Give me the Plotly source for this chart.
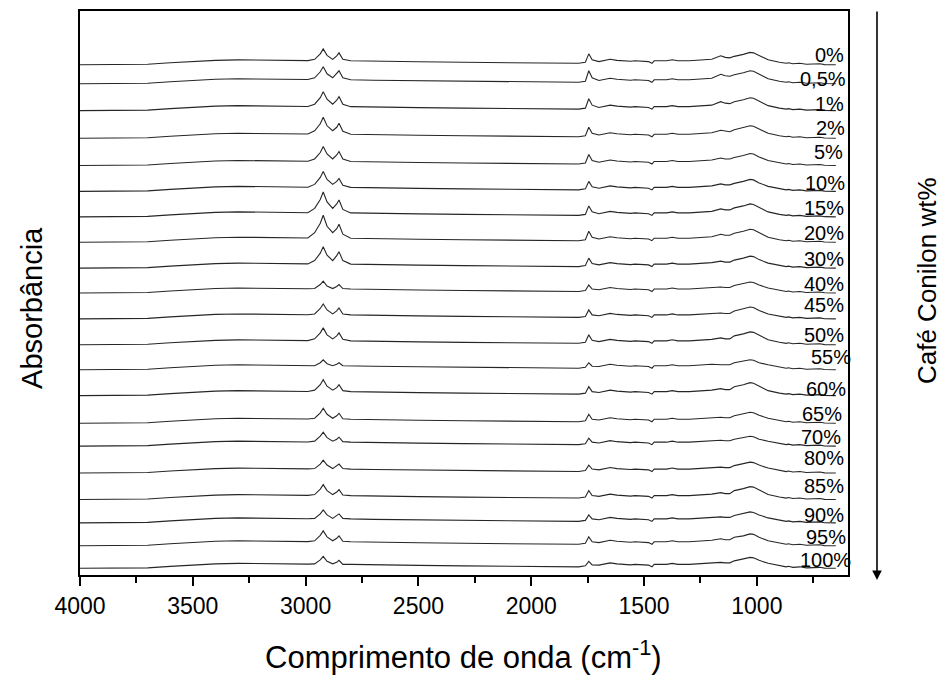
import plotly.graph_objects as go

# ---------------- data ----------------
wavenumber = [4000, 3800, 3700, 3600, 3500, 3400, 3300, 3200, 3100, 3030, 3010, 2990,
              2960, 2935, 2922, 2905, 2880, 2862, 2852, 2835,
              2800, 2700, 2500, 2300, 2100, 1900, 1790, 1760,
              1745, 1730,
              1700, 1650, 1620, 1560, 1540, 1480, 1465, 1455, 1400, 1375, 1350, 1300, 1240, 1200,
              1160, 1140, 1120, 1100, 1060, 1030, 1015, 990,
              950, 900, 870, 860, 840, 810, 780, 720, 700, 650]

labels = ["0%", "0,5%", "1%", "2%", "5%", "10%", "15%", "20%", "30%", "40%", "45%",
          "50%", "55%", "60%", "65%", "70%", "80%", "85%", "90%", "95%", "100%"]

# vertical offset of each spectrum in the stack (a.u.)
offsets = [512, 493, 466, 438.3, 411, 385, 359.4, 334, 308, 283, 257,
           231, 206, 180, 152.3, 129.3, 102.3, 75.7, 52.3, 29.3, 6.7]

a_0 = [0, 0, 0.5, 2, 3.5, 4.5, 5, 4.8, 4.2, 3.8, 4.5, 4.2,
       5.5, 11, 16, 9.5, 5.5, 9, 12, 5.5,
       4, 3.5, 3, 2.5, 2, 1.5, 1.5, 2.5, 11, 5,
       3.2, 5.5, 4.5, 3.5, 4, 3.2, 1.5, 4, 4, 5, 4, 4, 5, 5.5,
       9, 7.5, 7, 8.5, 10.5, 12.5, 12, 9,
       5, 2.5, 1.5, 2, 1, 1.5, 0.5, 1, 0.2, 0]
a_0_5 = [0, 0, 0.5, 2, 3.5, 4.5, 5, 4.8, 4.2, 3.8, 4.5, 4.2,
         6, 12, 17, 10, 6, 10, 13, 6,
         4, 3.5, 3, 2.5, 2, 1.5, 1.5, 2.5, 13, 6,
         3.2, 5.5, 4.5, 3.5, 4, 3.2, 1.5, 4, 4, 5, 4, 4, 5, 5.5,
         9.5, 8, 7.5, 9, 11, 13, 12.5, 9.5,
         5, 2.5, 1.5, 2, 1, 1.5, 0.5, 1, 0.2, 0]
a_1 = [0, 0, 0.5, 2, 3.5, 4.5, 5, 4.8, 4.2, 3.8, 4.5, 4.2,
       6.5, 13, 19, 11.5, 6.5, 10.5, 14, 6.5,
       4, 3.5, 3, 2.5, 2, 1.5, 1.5, 2.5, 12, 5.5,
       3.2, 5.5, 4.5, 3.5, 4, 3.2, 1.5, 4, 4, 5, 4, 4, 5, 5.5,
       9, 7.5, 7, 9, 11, 13, 12.5, 9.5,
       5, 2.5, 1.5, 2, 1, 1.5, 0.5, 1, 0.2, 0]
a_2 = [0, 0, 0.5, 2, 3.5, 4.5, 5, 4.8, 4.2, 3.8, 4.5, 4.2,
       7.5, 14.5, 21, 12.5, 7.5, 11, 15, 7,
       4, 3.5, 3, 2.5, 2, 1.5, 1.5, 2.5, 11, 5,
       3.2, 5.5, 4.5, 3.5, 4, 3.2, 1.5, 4, 4, 5, 4, 4, 5, 5.5,
       8, 7, 6.5, 8.5, 10.5, 12.5, 12, 9,
       5, 2.5, 1.5, 2, 1, 1.5, 0.5, 1, 0.2, 0]
a_5 = [0, 0, 0.5, 2, 3.5, 4.5, 5, 4.8, 4.2, 3.8, 4.5, 4.2,
       6.5, 13, 19, 11.5, 6.5, 10.5, 14, 6.5,
       4, 3.5, 3, 2.5, 2, 1.5, 1.5, 2.5, 11, 5,
       3.2, 5.5, 4.5, 3.5, 4, 3.2, 1.5, 4, 4, 5, 4, 4, 5, 5.5,
       7.5, 6.5, 6.5, 8, 10, 12, 11.5, 8.5,
       5, 2.5, 1.5, 2, 1, 1.5, 0.5, 1, 0.2, 0]
a_10 = [0, 0, 0.5, 2, 3.5, 4.5, 5, 4.8, 4.2, 3.8, 4.5, 4.2,
        7, 14, 20, 12, 7, 10, 13, 6,
        4, 3.5, 3, 2.5, 2, 1.5, 1.5, 2.5, 10, 4.5,
        3.2, 5.5, 4.5, 3.5, 4, 3.2, 1.5, 4, 4, 5, 4, 4, 5, 5.5,
        7.5, 6.5, 6.5, 8, 10, 12, 11.5, 8.5,
        5, 2.5, 1.5, 2, 1, 1.5, 0.5, 1, 0.2, 0]
a_15 = [0, 0, 0.5, 2, 3.5, 4.5, 5, 4.8, 4.2, 3.8, 4.5, 4.2,
        8.5, 17.5, 25, 15, 8.5, 13, 17, 7.5,
        4, 3.5, 3, 2.5, 2, 1.5, 1.5, 2.5, 11, 5,
        3.2, 5.5, 4.5, 3.5, 4, 3.2, 1.5, 4, 4, 5, 4, 4, 5, 5.5,
        8, 7, 7, 9, 11, 13, 12.5, 9.5,
        5, 2.5, 1.5, 2, 1, 1.5, 0.5, 1, 0.2, 0]
a_20 = [0, 0, 0.5, 2, 3.5, 4.5, 5, 4.8, 4.2, 3.8, 4.5, 4.2,
        9.5, 19, 27, 16, 9.5, 13.5, 18, 8,
        4, 3.5, 3, 2.5, 2, 1.5, 1.5, 2.5, 11, 5,
        3.2, 5.5, 4.5, 3.5, 4, 3.2, 1.5, 4, 4, 5, 4, 4, 5, 5.5,
        8, 7, 7, 9, 11, 13, 12.5, 9.5,
        5, 2.5, 1.5, 2, 1, 1.5, 0.5, 1, 0.2, 0]
a_30 = [0, 0, 0.5, 2, 3.5, 4.5, 5, 4.8, 4.2, 3.8, 4.5, 4.2,
        7.5, 15, 21.5, 13, 7.5, 12.5, 16.5, 7.5,
        4, 3.5, 3, 2.5, 2, 1.5, 1.5, 2.5, 10, 4.5,
        3.2, 5.5, 4.5, 3.5, 4, 3.2, 1.5, 4, 4, 5, 4, 4, 5, 5.5,
        7, 6, 6, 8, 10, 12, 11.5, 8.5,
        5, 2.5, 1.5, 2, 1, 1.5, 0.5, 1, 0.2, 0]
a_40 = [0, 0, 0.5, 2, 3.5, 4.5, 5, 4.8, 4.2, 3.8, 4.5, 4.2,
        4.5, 8.5, 12, 7, 4.5, 6.5, 8.5, 4.5,
        4, 3.5, 3, 2.5, 2, 1.5, 1.5, 2.5, 8, 4,
        3.2, 5.5, 4.5, 3.5, 4, 3.2, 1.5, 4, 4, 5, 4, 4, 5, 5.5,
        6, 5.5, 5.5, 7.5, 9.5, 11, 10.5, 8,
        5, 2.5, 1.5, 2, 1, 1.5, 0.5, 1, 0.2, 0]
a_45 = [0, 0, 0.5, 2, 3.5, 4.5, 5, 4.8, 4.2, 3.8, 4.5, 4.2,
        5, 10.5, 15, 9, 5, 8, 11, 5,
        4, 3.5, 3, 2.5, 2, 1.5, 1.5, 2.5, 9, 4,
        3.2, 5.5, 4.5, 3.5, 4, 3.2, 1.5, 4, 4, 5, 4, 4, 5, 5.5,
        6, 5.5, 5.5, 8, 10, 12, 11.5, 8.5,
        5, 2.5, 1.5, 2, 1, 1.5, 0.5, 1, 0.2, 0]
a_50 = [0, 0, 0.5, 2, 3.5, 4.5, 5, 4.8, 4.2, 3.8, 4.5, 4.2,
        6, 12, 17, 10, 6, 9, 12, 5.5,
        4, 3.5, 3, 2.5, 2, 1.5, 1.5, 2.5, 10, 4.5,
        3.2, 5.5, 4.5, 3.5, 4, 3.2, 1.5, 4, 4, 5, 4, 4, 5, 5.5,
        7, 6, 6, 9, 11, 13, 12.5, 9.5,
        5, 2.5, 1.5, 2, 1, 1.5, 0.5, 1, 0.2, 0]
a_55 = [0, 0, 0.5, 2, 3.5, 4.5, 5, 4.8, 4.2, 3.8, 4.5, 4.2,
        4, 7, 10, 6, 4, 5.5, 7, 4,
        4, 3.5, 3, 2.5, 2, 1.5, 1.5, 2.5, 7, 3.5,
        3.2, 5.5, 4.5, 3.5, 4, 3.2, 1.5, 4, 4, 5, 4, 4, 5, 5.5,
        5, 5, 5, 7, 8.5, 10, 9.5, 7,
        5, 2.5, 1.5, 2, 1, 1.5, 0.5, 1, 0.2, 0]
a_60 = [0, 0, 0.5, 2, 3.5, 4.5, 5, 4.8, 4.2, 3.8, 4.5, 4.2,
        5.5, 11, 16, 9.5, 5.5, 8, 11, 5,
        4, 3.5, 3, 2.5, 2, 1.5, 1.5, 2.5, 9, 4,
        3.2, 5.5, 4.5, 3.5, 4, 3.2, 1.5, 4, 4, 5, 4, 4, 5, 5.5,
        7, 6, 6, 9, 11, 13, 12.5, 9.5,
        5, 2.5, 1.5, 2, 1, 1.5, 0.5, 1, 0.2, 0]
a_65 = [0, 0, 0.5, 2, 3.5, 4.5, 5, 4.8, 4.2, 3.8, 4.5, 4.2,
        5, 10.5, 15, 9, 5, 7.5, 10, 4.5,
        4, 3.5, 3, 2.5, 2, 1.5, 1.5, 2.5, 9, 4,
        3.2, 5.5, 4.5, 3.5, 4, 3.2, 1.5, 4, 4, 5, 4, 4, 5, 5.5,
        6, 5.5, 5.5, 7.5, 9.5, 11, 10.5, 8,
        5, 2.5, 1.5, 2, 1, 1.5, 0.5, 1, 0.2, 0]
a_70 = [0, 0, 0.5, 2, 3.5, 4.5, 5, 4.8, 4.2, 3.8, 4.5, 4.2,
        5, 10, 14, 8.5, 5, 7, 9, 4.5,
        4, 3.5, 3, 2.5, 2, 1.5, 1.5, 2.5, 8, 4,
        3.2, 5.5, 4.5, 3.5, 4, 3.2, 1.5, 4, 4, 5, 4, 4, 5, 5.5,
        6, 5.5, 5.5, 7, 8.5, 10, 9.5, 7,
        5, 2.5, 1.5, 2, 1, 1.5, 0.5, 1, 0.2, 0]
a_80 = [0, 0, 0.5, 2, 3.5, 4.5, 5, 4.8, 4.2, 3.8, 4.5, 4.2,
        4.5, 9, 13, 8, 4.5, 7, 9, 4.5,
        4, 3.5, 3, 2.5, 2, 1.5, 1.5, 2.5, 8, 4,
        3.2, 5.5, 4.5, 3.5, 4, 3.2, 1.5, 4, 4, 5, 4, 4, 5, 5.5,
        6, 5.5, 5.5, 7.5, 9.5, 11, 10.5, 8,
        5, 2.5, 1.5, 2, 1, 1.5, 0.5, 1, 0.2, 0]
a_85 = [0, 0, 0.5, 2, 3.5, 4.5, 5, 4.8, 4.2, 3.8, 4.5, 4.2,
        5, 10.5, 15, 9, 5, 7.5, 10, 4.5,
        4, 3.5, 3, 2.5, 2, 1.5, 1.5, 2.5, 9, 4,
        3.2, 5.5, 4.5, 3.5, 4, 3.2, 1.5, 4, 4, 5, 4, 4, 5, 5.5,
        7, 6, 6, 9, 11, 13, 12.5, 9.5,
        5, 2.5, 1.5, 2, 1, 1.5, 0.5, 1, 0.2, 0]
a_90 = [0, 0, 0.5, 2, 3.5, 4.5, 5, 4.8, 4.2, 3.8, 4.5, 4.2,
        4.5, 9, 13, 8, 4.5, 7, 9, 4.5,
        4, 3.5, 3, 2.5, 2, 1.5, 1.5, 2.5, 8, 4,
        3.2, 5.5, 4.5, 3.5, 4, 3.2, 1.5, 4, 4, 5, 4, 4, 5, 5.5,
        6, 5.5, 5.5, 7.5, 9.5, 11, 10.5, 8,
        5, 2.5, 1.5, 2, 1, 1.5, 0.5, 1, 0.2, 0]
a_95 = [0, 0, 0.5, 2, 3.5, 4.5, 5, 4.8, 4.2, 3.8, 4.5, 4.2,
        5, 10.5, 15, 9, 5, 7.5, 10, 4.5,
        4, 3.5, 3, 2.5, 2, 1.5, 1.5, 2.5, 9, 4,
        3.2, 5.5, 4.5, 3.5, 4, 3.2, 1.5, 4, 4, 5, 4, 4, 5, 5.5,
        7, 6, 6, 8.5, 10, 12, 11.5, 8.5,
        5, 2.5, 1.5, 2, 1, 1.5, 0.5, 1, 0.2, 0]
a_100 = [0, 0, 0.5, 2, 3.5, 4.5, 5, 4.8, 4.2, 3.8, 4.5, 4.2,
         4.5, 8.5, 12, 7, 4.5, 6, 8, 4,
         4, 3.5, 3, 2.5, 2, 1.5, 1.5, 2.5, 7, 3.5,
         3.2, 5.5, 4.5, 3.5, 4, 3.2, 1.5, 4, 4, 5, 4, 4, 5, 5.5,
         6, 5.5, 5.5, 7.5, 9.5, 11, 10.5, 8,
         5, 2.5, 1.5, 2, 1, 1.5, 0.5, 1, 0.2, 0]

spectra = [a_0, a_0_5, a_1, a_2, a_5, a_10, a_15, a_20, a_30, a_40, a_45,
           a_50, a_55, a_60, a_65, a_70, a_80, a_85, a_90, a_95, a_100]

x_ticks = [4000, 3500, 3000, 2500, 2000, 1500, 1000]

# ---------------- layout helpers ----------------
L, R, T, B = 80, 848, 9, 575          # plot area in pixels
W, H = 945, 675
def px_x(px):
    return (px - L) / (R - L)
def px_y(py):
    return (B - py) / (B - T)

# label placement (pixel centre y, right edge x)
label_y_px = [53, 77.5, 102, 126, 151, 182, 207, 232, 258, 283, 304,
              334, 356, 388, 413, 437, 458, 486, 515, 537, 560]
label_right_px = [846, 848, 846, 847, 845, 847, 846, 846, 846, 846, 846,
                  846, 853, 848, 844, 843, 846, 846, 846, 848, 853]

FONT = "Liberation Sans, Arial, Helvetica, sans-serif"

fig = go.Figure()
for name, off, ys in zip(labels, offsets, spectra):
    fig.add_trace(go.Scatter(
        x=wavenumber, y=[off + v for v in ys], mode="lines", name=name,
        line=dict(color="#262626", width=1.1), showlegend=False, hoverinfo="skip"))

annotations = []
for lab, ly, lx in zip(labels, label_y_px, label_right_px):
    annotations.append(dict(x=px_x(lx), y=px_y(ly), xref="paper", yref="paper",
                            text=lab, showarrow=False, xanchor="right", yanchor="middle",
                            font=dict(family=FONT, size=20, color="black")))

annotations.append(dict(x=px_x(463), y=px_y(655), xref="paper", yref="paper",
                        text="Comprimento de onda (cm<sup>-1</sup>)", showarrow=False,
                        xanchor="center", yanchor="middle",
                        font=dict(family=FONT, size=31, color="black")))
annotations.append(dict(x=px_x(32), y=px_y(307), xref="paper", yref="paper",
                        text="Absorbância", showarrow=False, textangle=-90,
                        xanchor="center", yanchor="middle",
                        font=dict(family=FONT, size=29, color="black")))
annotations.append(dict(x=px_x(927), y=px_y(280), xref="paper", yref="paper",
                        text="Café Conilon wt%", showarrow=False, textangle=-90,
                        xanchor="center", yanchor="middle",
                        font=dict(family=FONT, size=26, color="black")))
# downward arrow
annotations.append(dict(x=px_x(877), y=px_y(580), xref="paper", yref="paper",
                        ax=0, ay=-570, axref="pixel", ayref="pixel", text="",
                        showarrow=True, arrowhead=2, arrowsize=1.2, arrowwidth=1.6,
                        arrowcolor="black"))

fig.update_layout(
    width=W, height=H,
    margin=dict(l=L, r=W - R, t=T, b=H - B, pad=0),
    paper_bgcolor="white", plot_bgcolor="white",
    annotations=annotations,
    xaxis=dict(range=[4000, 596], tickvals=x_ticks, ticks="outside", ticklen=9,
               tickwidth=2, tickcolor="black", showline=True, linecolor="black",
               linewidth=2, mirror=True, showgrid=False, zeroline=False,
               tickfont=dict(family=FONT, size=23, color="black"),
               minor=dict(dtick=250, tick0=0, ticks="outside", ticklen=6,
                          tickwidth=2, tickcolor="black", showgrid=False)),
    yaxis=dict(range=[0, B - T], showticklabels=False, ticks="", showline=True,
               linecolor="black", linewidth=2, mirror=True, showgrid=False,
               zeroline=False),
)

fig.write_html("out.html")
